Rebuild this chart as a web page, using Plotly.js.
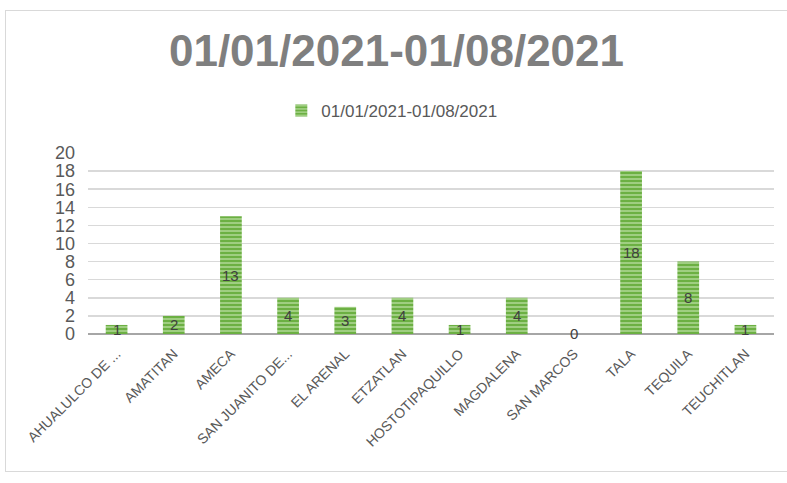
<!DOCTYPE html>
<html>
<head>
<meta charset="utf-8">
<script src="https://cdn.plot.ly/plotly-3.0.1.min.js"></script>
<style>
  body { margin: 0; background: #fff; }
  #grafico { position: absolute; left: 5px; top: 10px; width: 781px; height: 460px;
             border: 1px solid #d9d9d9; border-right: none; }
</style>
</head>
<body>
<div id="grafico"></div>
<script>
// datos
const municipios = ['AHUALULCO DE ...', 'AMATITAN', 'AMECA', 'SAN JUANITO DE...', 'EL ARENAL',
                    'ETZATLAN', 'HOSTOTIPAQUILLO', 'MAGDALENA', 'SAN MARCOS', 'TALA', 'TEQUILA', 'TEUCHITLAN'];
const casos = [1, 2, 13, 4, 3, 4, 1, 4, 0, 18, 8, 1];
const periodo = '01/01/2021-01/08/2021';
const yTicks = [0, 2, 4, 6, 8, 10, 12, 14, 16, 18, 20];

const fuente = 'Liberation Sans, Arial, sans-serif';

let barras = {
    type: 'bar',
    name: periodo,
    x: municipios,
    y: casos,
    marker: {
        color: '#70ad47',
        pattern: { shape: '-', bgcolor: '#6cb043', fgcolor: '#b5dc9c', size: 4, solidity: 0.35 }
    },
    textposition: 'none',
    hoverinfo: 'x+y'
};

// etiquetas de datos en el centro de cada barra
let etiquetas = municipios.map((m, i) => ({
    x: m,
    y: casos[i] / 2,
    text: String(casos[i]),
    showarrow: false,
    font: { family: fuente, size: 15, color: '#404040' },
    yshift: casos[i] === 0 ? 1 : 0
}));

let layout = {
    width: 781,
    height: 460,
    margin: { l: 82, r: 13, t: 142, b: 137 },
    paper_bgcolor: '#ffffff',
    plot_bgcolor: '#ffffff',
    font: { family: fuente, color: '#595959' },
    title: {
        text: '<b>' + periodo + '</b>',
        font: { family: fuente, size: 44, color: '#7f7f7f' },
        x: 0.5, xanchor: 'center',
        y: 1 - 40 / 460, yanchor: 'middle', yref: 'container'
    },
    showlegend: true,
    legend: {
        orientation: 'h',
        x: 0.494, xanchor: 'center', xref: 'container',
        y: 1 - 100 / 460, yanchor: 'middle', yref: 'container',
        font: { family: fuente, size: 17, color: '#595959' },
        itemwidth: 30
    },
    bargap: 0.62,
    xaxis: {
        type: 'category',
        tickangle: -45,
        tickfont: { family: fuente, size: 14, color: '#595959' },
        ticklabelstandoff: 8,
        showgrid: false,
        showline: false,
        ticks: ''
    },
    yaxis: {
        range: [0, 20],
        tickvals: yTicks,
        tickfont: { family: fuente, size: 18, color: '#595959' },
        ticklabelstandoff: 12,
        showgrid: true,
        gridcolor: '#d9d9d9',
        gridwidth: 1.5,
        zeroline: true,
        zerolinecolor: '#a6a6a6',
        zerolinewidth: 2.5,
        showline: false
    },
    annotations: etiquetas
};

Plotly.newPlot('grafico', [barras], layout, { displayModeBar: false, staticPlot: true });
</script>
</body>
</html>
